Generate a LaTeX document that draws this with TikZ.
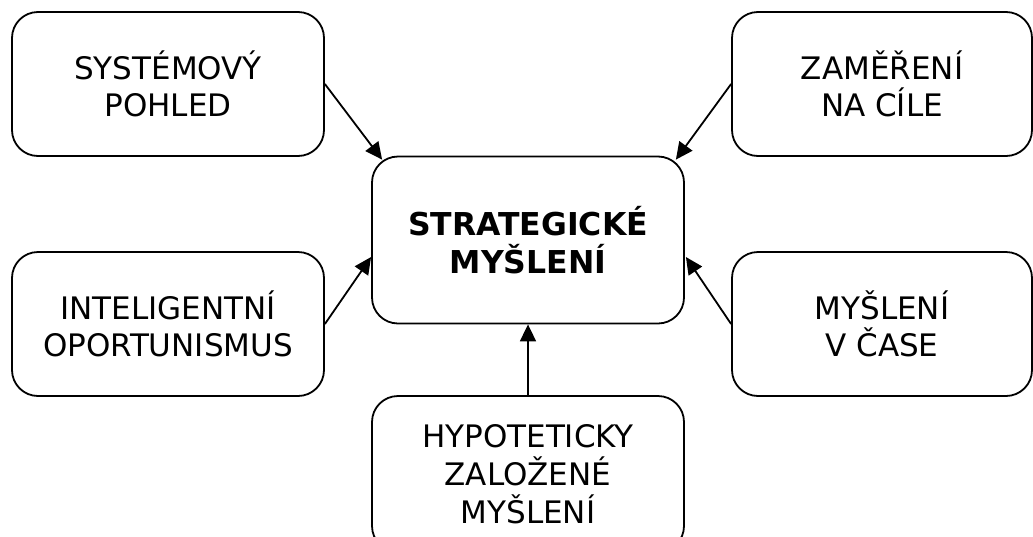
\documentclass[tikz,border=0pt]{standalone}
\usepackage{fontspec}
\setmainfont{DejaVu Sans}
\usetikzlibrary{arrows.meta}
\begin{document}
\begin{tikzpicture}[x=1pt,y=-1pt,
  box/.style={draw=black, line width=1.8pt, rounded corners=26pt, align=center,
    inner sep=0pt, font=\fontsize{31}{37}\selectfont},
  sidebox/.style={box, minimum width=312pt, minimum height=144pt},
  rightbox/.style={box, minimum width=300pt, minimum height=144pt},
  conn/.style={line width=1.8pt, -{Triangle[length=17pt,width=16pt]}}]
\useasboundingbox (0,0) rectangle (1033,536);
\clip (0,0) rectangle (1033,536);
\node[sidebox] (tl) at (168,84) {SYSTÉMOVÝ\\POHLED};
\node[rightbox] (tr) at (882,84) {ZAMĚŘENÍ\\NA CÍLE};
\node[box, minimum width=312pt, minimum height=167pt,
  font=\fontsize{31.5}{38}\selectfont\bfseries] (c) at (528,240) {STRATEGICKÉ\\MYŠLENÍ};
\node[sidebox] (ml) at (168,324) {INTELIGENTNÍ\\OPORTUNISMUS};
\node[rightbox] (mr) at (882,324) {MYŠLENÍ\\V ČASE};
\node[box, minimum width=312pt, minimum height=156pt,
  font=\fontsize{31}{38}\selectfont] (b) at (528,474) {HYPOTETICKY\\ZALOŽENÉ\\MYŠLENÍ};
\draw[conn] (tl.east) -- ([shift={(11,4)}]c.north west);
\draw[conn] (tr.west) -- ([shift={(-9,4)}]c.north east);
\draw[conn] (ml.east) -- ([shift={(0,17)}]c.west);
\draw[conn] (mr.west) -- ([shift={(1,17)}]c.east);
\draw[conn] (b.north) -- (c.south);
\end{tikzpicture}
\end{document}
